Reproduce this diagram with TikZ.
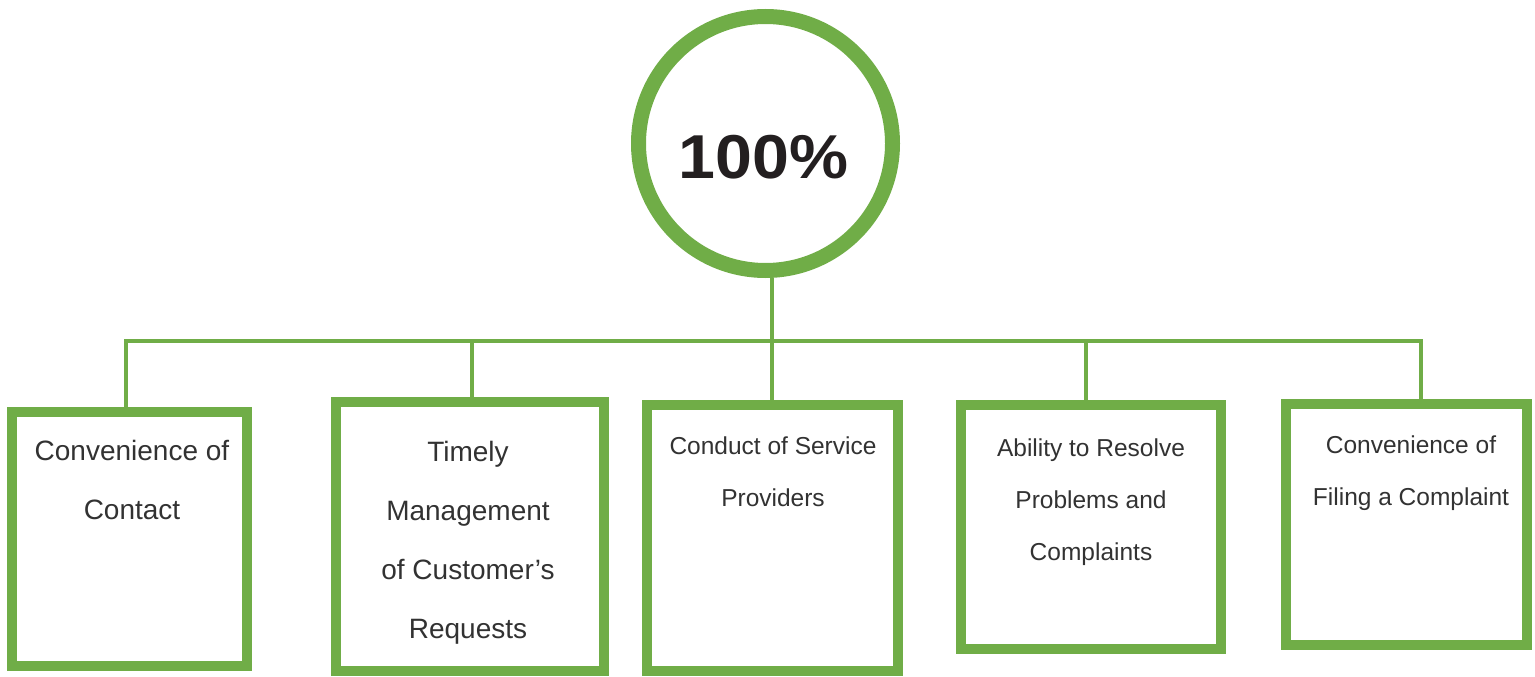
\documentclass[tikz,border=0pt]{standalone}
\usepackage{fontspec}
\usepackage{graphicx}
\setmainfont{Liberation Sans}
\definecolor{leaf}{RGB}{112,173,71}
\definecolor{ink}{RGB}{35,31,32}
\definecolor{softink}{RGB}{50,50,50}
\begin{document}
\begin{tikzpicture}[x=1pt,y=-1pt,
  card/.style={draw=leaf,line width=10pt,rectangle,inner sep=0pt},
  link/.style={draw=leaf,line width=4.5pt,line join=miter},
  % anchor=base sits on the last line of a multi-line label
  biglabel/.style={align=center,anchor=base,text=softink,inner sep=0pt,
    font=\fontsize{28}{59}\selectfont},
  smalllabel/.style={align=center,anchor=base,text=softink,inner sep=0pt,
    font=\fontsize{24.5}{52}\selectfont}]
\useasboundingbox (0,0) rectangle (1535,677);

% central disc
\node[draw=leaf,line width=15pt,circle,minimum size=254pt,inner sep=0pt] (hub) at (765.5,143.5) {};
\node[anchor=base,inner sep=0pt,text=ink,font=\fontsize{62}{62}\selectfont\bfseries] (pct) at (763.5,178) {\scalebox{1.07}[1]{100\%}};

% boxes
\node[card,minimum width=235pt,minimum height=254pt] (b1) at (129.5,539) {};
\node[card,minimum width=268pt,minimum height=269pt] (b2) at (470,536.5) {};
\node[card,minimum width=251pt,minimum height=266pt] (b3) at (772.5,538) {};
\node[card,minimum width=260pt,minimum height=244pt] (b4) at (1091,527) {};
\node[card,minimum width=241pt,minimum height=241pt] (b5) at (1406.5,524.5) {};

% bus
\coordinate (t1) at (126,341);
\coordinate (t2) at (472,341);
\coordinate (tc) at (772,341);
\coordinate (t4) at (1086,341);
\coordinate (t5) at (1421,341);
\draw[link] (t1 |- b1.north) -- (t1) -- (t5) -- (t5 |- b5.north);
\draw[link] (t2) -- (t2 |- b2.north);
\draw[link] (tc |- hub.south) -- (tc |- b3.north);
\draw[link] (t4) -- (t4 |- b4.north);

% labels
\node[biglabel] (l1) at (132,519) {Convenience of\\Contact};
\node[biglabel] (l2) at (468,638) {Timely\\Management\\of Customer’s\\Requests};
\node[smalllabel] (l3) at (773,506) {Conduct of Service\\Providers};
\node[smalllabel] (l4) at (1091,560) {Ability to Resolve\\Problems and\\Complaints};
\node[smalllabel] (l5) at (1411,505) {Convenience of\\Filing a Complaint};
\end{tikzpicture}
\end{document}
